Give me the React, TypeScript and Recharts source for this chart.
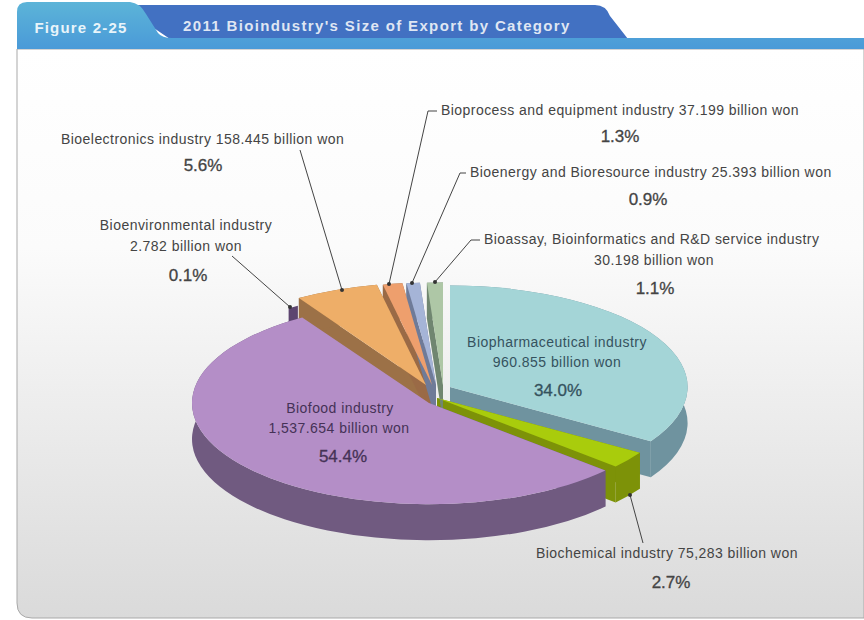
import React from "react";
import { PieChart, Pie } from "recharts";

const names = [
  "Biopharmaceutical",
  "Biochemical",
  "Biofood",
  "Bioenvironmental",
  "Bioelectronics",
  "Bioprocess",
  "Bioenergy",
  "Bioassay",
];
const billionWon = [960.855, 75.283, 1537.654, 2.782, 158.445, 37.199, 25.393, 30.198];
const data = names.map((name, i) => ({ name, value: billionWon[i] }));

const TILT = 0.427;
const DEPTH = 36;
const CX = 445;
const CY = 390;
const RADIUS = 240;

// exploded offset and colours per slice, same order as names
const sliceStyles: any[] = [
  { dx: 5, dy: -3, scale: 0.99, face: "#a4d5d7", wall: "#6f939f" },
  { dx: -8, dy: 8, scale: 1, face: "#a9cc0c", wall: "#7d9208" },
  { dx: -16, dy: 13, scale: 0.9875, face: "#b48ec7", wall: "#705a80" },
  { dx: -24, dy: 8, scale: 1, face: "none", wall: "#5d4570", rimOnly: true, stroke: 8 },
  { dx: -19, dy: -5, scale: 1, face: "#eeae68", wall: "#9c7147" },
  { dx: -13, dy: -5, scale: 1, face: "#ee9f6d", wall: "#9a6a46" },
  { dx: -9, dy: -5, scale: 1, face: "#a5b4d7", wall: "#6f7b98" },
  { dx: -2, dy: -5, scale: 1, face: "#aec7a6", wall: "#708670" },
];

function sliceGeometry(props: any) {
  const st = sliceStyles[names.indexOf(props.name ?? props.payload?.name)];
  const cx = props.cx + st.dx;
  const cy = props.cy + st.dy;
  const rx = props.outerRadius * st.scale;
  const ry = rx * TILT;
  const at = (deg: number) => {
    const a = (deg * Math.PI) / 180;
    return [cx + rx * Math.cos(a), cy - ry * Math.sin(a)];
  };
  const s = at(props.startAngle);
  const e = at(props.endAngle);
  const large = Math.abs(props.startAngle - props.endAngle) > 180 ? 1 : 0;
  return { st, cx, cy, rx, ry, s, e, large };
}

function FaceShape(props: any) {
  const { st, cx, cy, rx, ry, s, e, large } = sliceGeometry(props);
  const d = `M${cx},${cy} L${s[0]},${s[1]} A${rx},${ry} 0 ${large} 1 ${e[0]},${e[1]} Z`;
  return <path d={d} fill={st.face} stroke="none" />;
}

function WallShape(props: any) {
  const { st, cx, cy, rx, ry, s, e, large } = sliceGeometry(props);
  const h = DEPTH;
  const rim = `M${s[0]},${s[1]} A${rx},${ry} 0 ${large} 1 ${e[0]},${e[1]} L${e[0]},${e[1] + h} A${rx},${ry} 0 ${large} 0 ${s[0]},${s[1] + h} Z`;
  const side1 = `M${cx},${cy} L${s[0]},${s[1]} L${s[0]},${s[1] + h} L${cx},${cy + h} Z`;
  const side2 = `M${cx},${cy} L${e[0]},${e[1]} L${e[0]},${e[1] + h} L${cx},${cy + h} Z`;
  return (
    <g fill={st.wall} stroke={st.stroke ? st.wall : "none"} strokeWidth={st.stroke ?? 0}>
      {!st.rimOnly && <path d={side1} />}
      {!st.rimOnly && <path d={side2} />}
      <path d={rim} />
    </g>
  );
}

const GREY = "#444";
const smallLabels = [
  { text: "Bioprocess and equipment industry 37.199 billion won", x: 441, y: 111, anchor: "start", fill: GREY },
  { text: "Bioenergy and Bioresource industry 25.393 billion won", x: 470, y: 173, anchor: "start", fill: GREY },
  { text: "Bioassay, Bioinformatics and R&D service industry", x: 484, y: 240, anchor: "start", fill: GREY },
  { text: "30.198 billion won", x: 654, y: 261, anchor: "middle", fill: GREY },
  { text: "Bioelectronics industry 158.445 billion won", x: 61, y: 140, anchor: "start", fill: GREY },
  { text: "Bioenvironmental industry", x: 186, y: 226, anchor: "middle", fill: GREY },
  { text: "2.782 billion won", x: 186, y: 247, anchor: "middle", fill: GREY },
  { text: "Biopharmaceutical industry", x: 557, y: 343, anchor: "middle", fill: "#35525e" },
  { text: "960.855 billion won", x: 557, y: 363, anchor: "middle", fill: "#35525e" },
  { text: "Biofood industry", x: 340, y: 409, anchor: "middle", fill: "#453256" },
  { text: "1,537.654 billion won", x: 339, y: 429, anchor: "middle", fill: "#453256" },
  { text: "Biochemical industry 75,283 billion won", x: 536, y: 554, anchor: "start", fill: GREY },
];
const percentLabels = [
  { text: "1.3%", x: 620, y: 136, fill: GREY },
  { text: "0.9%", x: 648, y: 199, fill: GREY },
  { text: "1.1%", x: 655, y: 288, fill: GREY },
  { text: "5.6%", x: 203, y: 165, fill: GREY },
  { text: "0.1%", x: 188, y: 275, fill: GREY },
  { text: "34.0%", x: 558, y: 390, fill: "#35525e" },
  { text: "54.4%", x: 343, y: 456, fill: "#453256" },
  { text: "2.7%", x: 671, y: 582, fill: GREY },
];
const leaders = [
  { pts: "389,284 428,111 437,111", dot: [389, 284] },
  { pts: "412,283 460,173 466,173", dot: [412, 283] },
  { pts: "435,282 471,240 480,240", dot: [435, 282] },
  { pts: "342,290 300,150", dot: [342, 290] },
  { pts: "290,307 232,256", dot: [290, 307] },
  { pts: "630,495 643,543", dot: [630, 495] },
];

const FONT = "'Liberation Sans', Arial, sans-serif";

export default function App() {
  return (
    <div style={{ position: "absolute", left: 0, top: 0, width: 864, height: 620, background: "#fff", overflow: "hidden" }}>
      <svg width={864} height={620} style={{ position: "absolute", left: 0, top: 0 }}>
        <defs>
          <linearGradient id="panelBg" x1="0" y1="0" x2="0" y2="1">
            <stop offset="0" stopColor="#ffffff" />
            <stop offset="0.35" stopColor="#fbfbfb" />
            <stop offset="1" stopColor="#dadada" />
          </linearGradient>
          <linearGradient id="tabBg" x1="0" y1="0" x2="0" y2="1">
            <stop offset="0" stopColor="#5cb4d8" />
            <stop offset="1" stopColor="#4a9ad8" />
          </linearGradient>
        </defs>
        <path d="M17,49 H864 V618 H32 Q17,618 17,603 Z" fill="url(#panelBg)" stroke="#a9a9a9" />
        <path d="M120,5 H595 Q606,5 610,16 L628,39 H170 Z" fill="#4271c2" />
        <path d="M17,39 V12 Q17,2 27,2 H130 Q140,3 146,14 L158,33 Q162,38 172,38 H864 V49 H17 Z" fill="url(#tabBg)" />
        <text x={81} y={33} textAnchor="middle" fill="#e8f4fa" fontFamily={FONT} fontSize={15} fontWeight="bold" letterSpacing={1.2}>
          Figure 2-25
        </text>
        <text x={183} y={31} fill="#dfe6f3" fontFamily={FONT} fontSize={15} fontWeight="bold" letterSpacing={1.35}>
          2011 Bioindustry's Size of Export by Category
        </text>
      </svg>
      <div style={{ position: "absolute", left: 0, top: 0 }}>
        <PieChart width={864} height={620} margin={{ top: 0, right: 0, bottom: 0, left: 0 }}>
          <Pie
            data={data}
            dataKey="value"
            cx={CX}
            cy={CY}
            outerRadius={RADIUS}
            startAngle={90}
            endAngle={-270}
            isAnimationActive={false}
            shape={WallShape}
            stroke="none"
          />
          <Pie
            data={data}
            dataKey="value"
            cx={CX}
            cy={CY}
            outerRadius={RADIUS}
            startAngle={90}
            endAngle={-270}
            isAnimationActive={false}
            shape={FaceShape}
            stroke="none"
          />
        </PieChart>
      </div>
      <svg width={864} height={620} style={{ position: "absolute", left: 0, top: 0 }} fontFamily={FONT}>
        {leaders.map((l, i) => (
          <g key={i}>
            <polyline points={l.pts} fill="none" stroke="#444" strokeWidth={1} />
            <circle cx={l.dot[0]} cy={l.dot[1]} r={2} fill="#333" />
          </g>
        ))}
        {smallLabels.map((l) => (
          <text key={l.text} x={l.x} y={l.y + 4} textAnchor={l.anchor as any} fontSize={14} fill={l.fill} letterSpacing={0.45}>
            {l.text}
          </text>
        ))}
        {percentLabels.map((l) => (
          <text key={l.text} x={l.x} y={l.y + 6} textAnchor="middle" fontSize={17} fill={l.fill} stroke={l.fill} strokeWidth={0.3}>
            {l.text}
          </text>
        ))}
      </svg>
    </div>
  );
}
